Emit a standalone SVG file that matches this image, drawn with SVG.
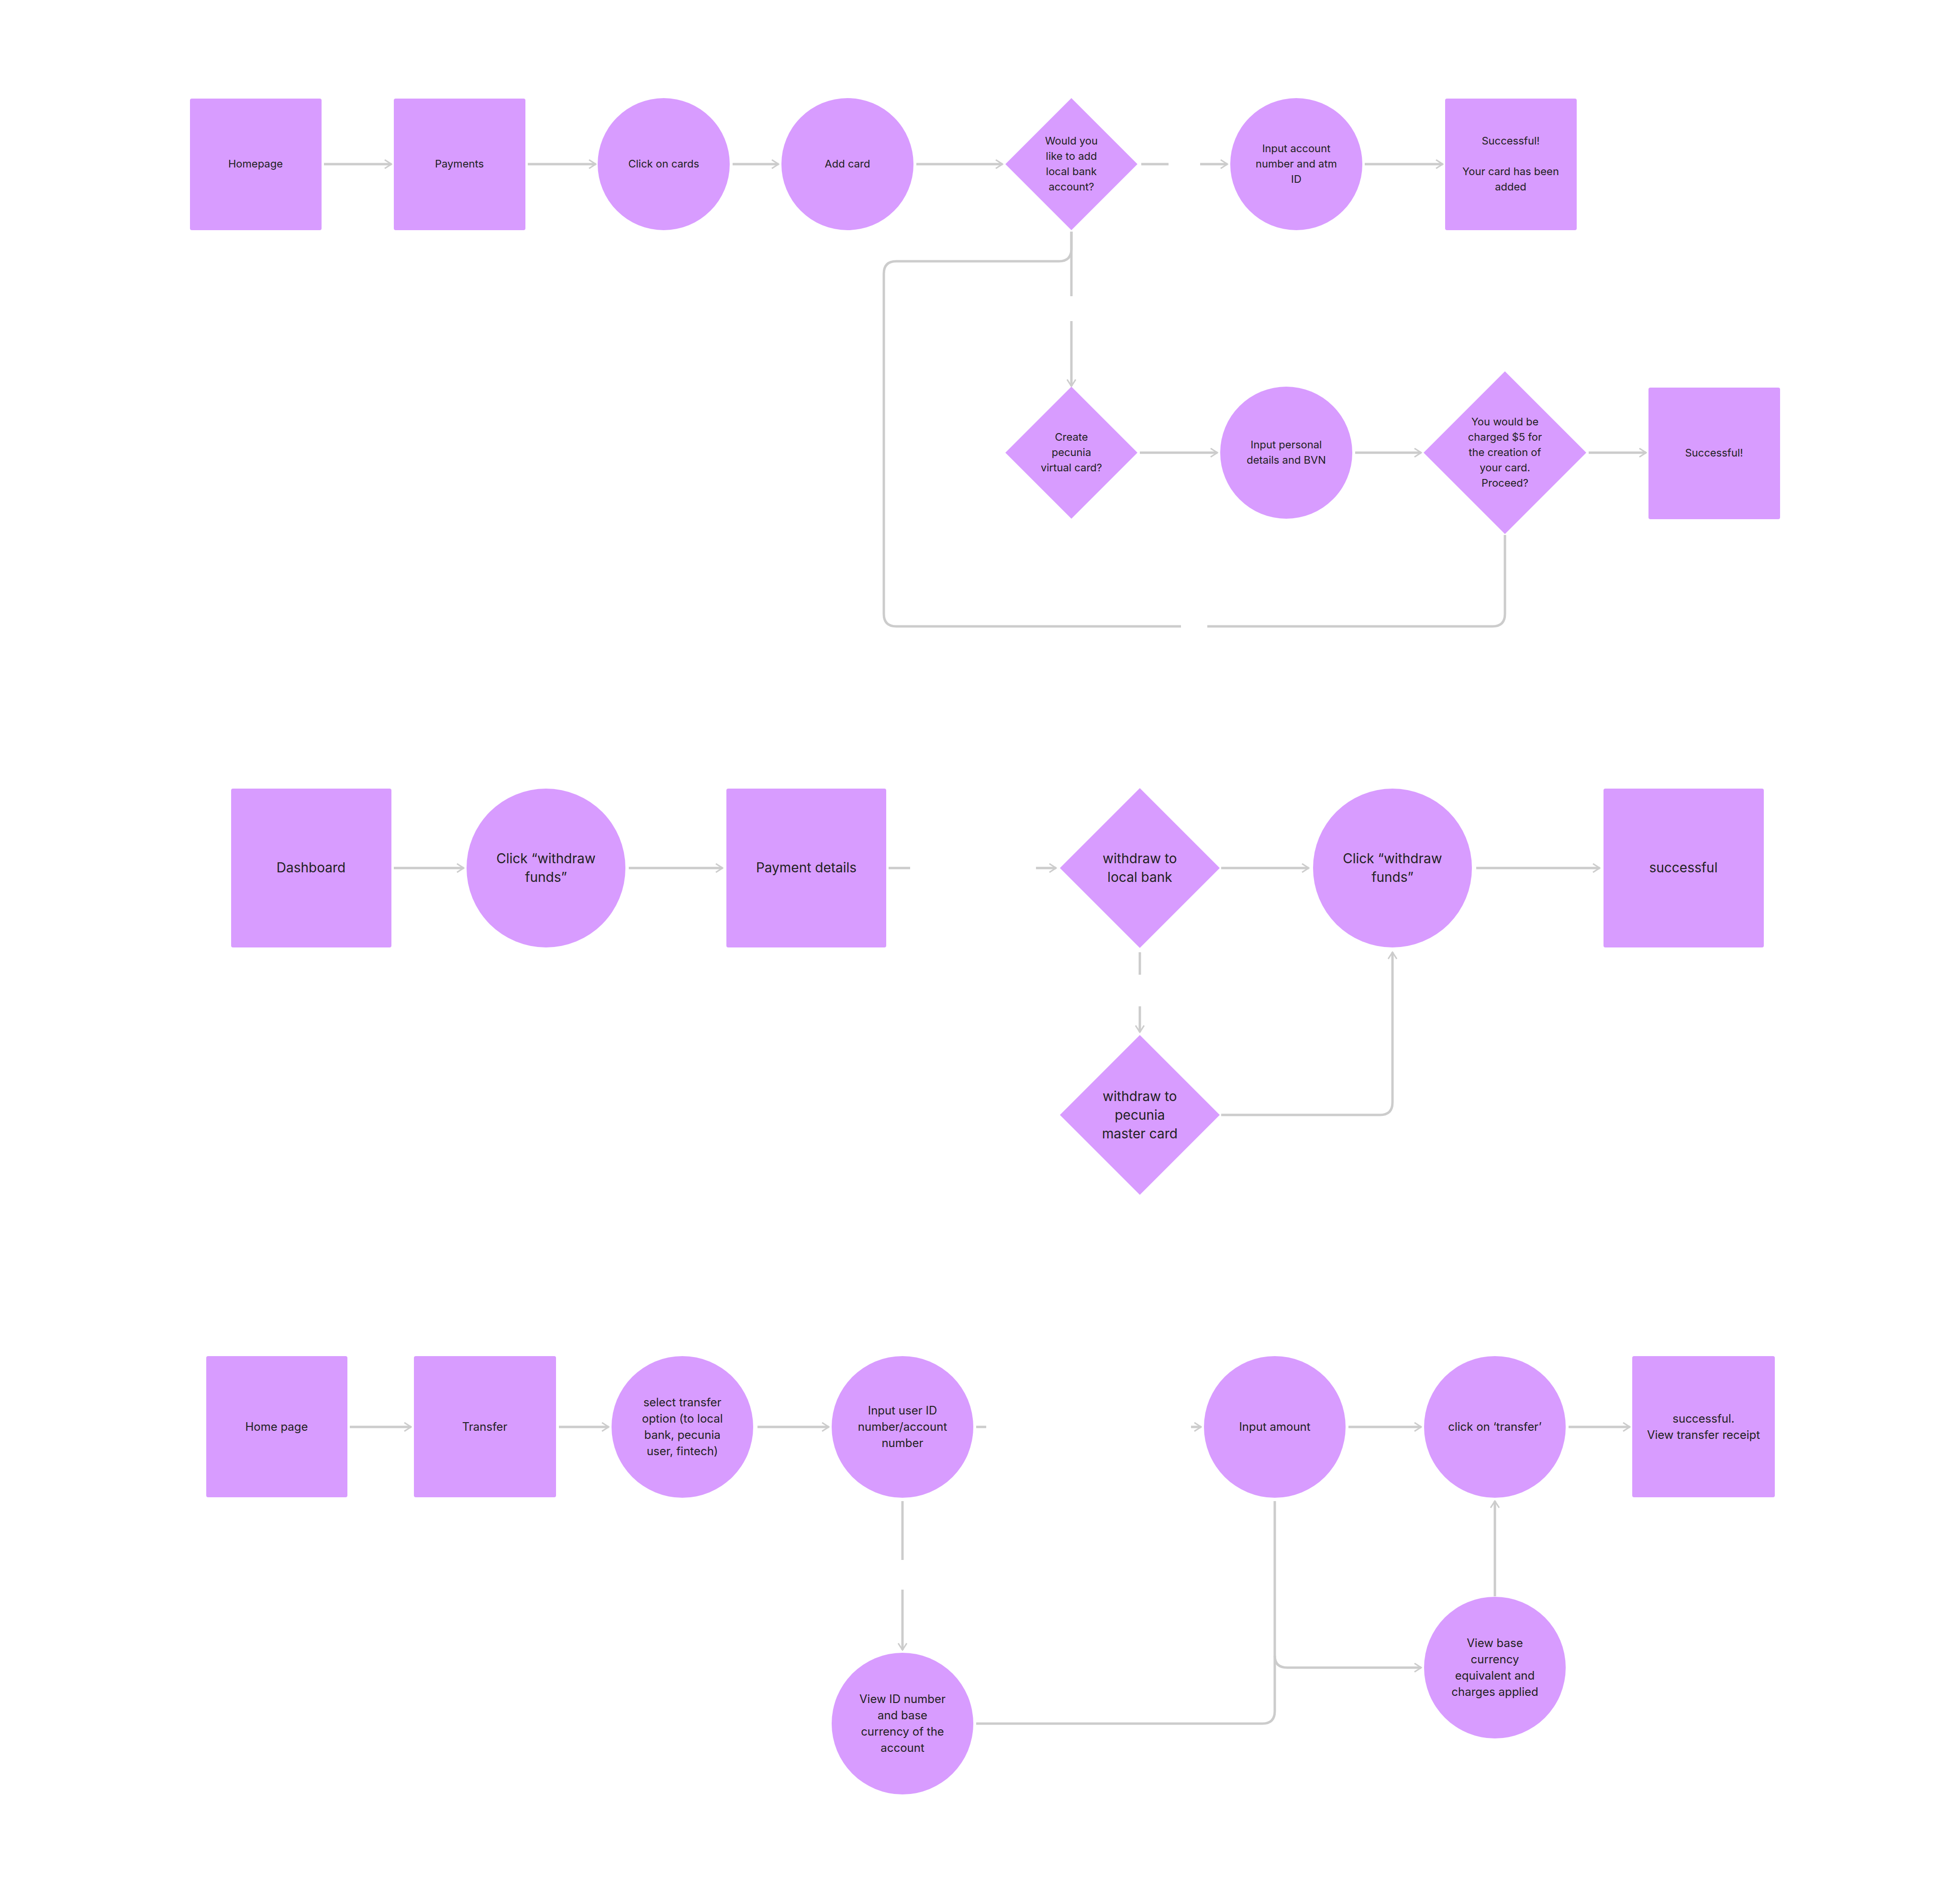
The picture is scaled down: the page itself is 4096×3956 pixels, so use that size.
<svg xmlns="http://www.w3.org/2000/svg" width="4096" height="3956" viewBox="0 0 4096 3956">
<style>
.n{fill:#d89cff}
.c{fill:none;stroke:#cccccc;stroke-width:5}
.a{marker-end:url(#ar)}
text{font-family:Inter,"Liberation Sans",sans-serif;fill:#222;text-anchor:middle;dominant-baseline:middle}
.t1{font-size:22px}.t2{font-size:28px}.t3{font-size:24px}
</style>
<defs>
<marker id="ar" viewBox="0 0 20 20" refX="18" refY="10" markerWidth="20" markerHeight="20" markerUnits="userSpaceOnUse" orient="auto">
<path d="M4 1 L18 10 L4 19" fill="none" stroke="#cccccc" stroke-width="3"/>
</marker>
</defs>
<rect width="4096" height="3956" fill="#fff"/>
<g id="connectors">
<path class="c a" d="M677 343H818"/>
<path class="c a" d="M1103 343H1245"/>
<path class="c a" d="M1531 343H1627"/>
<path class="c a" d="M1915 343H2095"/>
<path class="c" d="M2385 343H2442"/>
<path class="c a" d="M2508 343H2565"/>
<path class="c a" d="M2852 343H3015"/>
<path class="c" d="M2239 484V619"/>
<path class="c a" d="M2239 671V807"/>
<path class="c" d="M2239 484V520Q2239 546 2213 546H1873Q1847 546 1847 572V1283Q1847 1309 1873 1309H2468"/>
<path class="c" d="M2523 1309H3119Q3145 1309 3145 1283V1118"/>
<path class="c a" d="M2382 946H2544"/>
<path class="c a" d="M2832 946H2970"/>
<path class="c a" d="M3320 946H3440"/>
<path class="c a" d="M823 1814H969"/>
<path class="c a" d="M1314 1814H1510"/>
<path class="c" d="M1857 1814H1902"/>
<path class="c a" d="M2165 1814H2207"/>
<path class="c a" d="M2552 1814H2735"/>
<path class="c a" d="M3085 1814H3343"/>
<path class="c" d="M2382 1990V2037"/>
<path class="c a" d="M2382 2103V2157"/>
<path class="c a" d="M2552 2330H2884Q2910 2330 2910 2304V1990"/>
<path class="c a" d="M731 2982H859"/>
<path class="c a" d="M1168 2982H1272"/>
<path class="c a" d="M1583 2982H1732"/>
<path class="c" d="M2040 2982H2061"/>
<path class="c a" d="M2489 2982H2510"/>
<path class="c a" d="M2818 2982H2970"/>
<path class="c a" d="M3278 2982H3406"/>
<path class="c" d="M1886 3137V3260"/>
<path class="c a" d="M1886 3322V3448"/>
<path class="c" d="M2040 3602H2638Q2664 3602 2664 3576V3137"/>
<path class="c a" d="M2664 3460Q2664 3485 2690 3485H2970"/>
<path class="c a" d="M3124 3336V3137"/>
</g>
<g id="homepage"><rect class="n" x="397" y="206" width="275" height="275" rx="4"/><text class="t1" x="534" y="344">Homepage</text></g>
<g id="payments"><rect class="n" x="823" y="206" width="275" height="275" rx="4"/><text class="t1" x="960" y="344">Payments</text></g>
<g id="clickcards"><circle class="n" cx="1387" cy="343" r="138"/><text class="t1" x="1387" y="344">Click on cards</text></g>
<g id="addcard"><circle class="n" cx="1771" cy="343" r="138"/><text class="t1" x="1771" y="344">Add card</text></g>
<g id="addlocal"><path class="n" d="M2239 205L2377 343L2239 481L2101 343Z"/><text class="t1" x="2239" y="296">Would you</text><text class="t1" x="2239" y="328">like to add</text><text class="t1" x="2239" y="360">local bank</text><text class="t1" x="2239" y="392">account?</text></g>
<g id="inputaccount"><circle class="n" cx="2709" cy="343" r="138"/><text class="t1" x="2709" y="312">Input account</text><text class="t1" x="2709" y="344">number and atm</text><text class="t1" x="2709" y="376">ID</text></g>
<g id="success1"><rect class="n" x="3020" y="206" width="275" height="275" rx="4"/><text class="t1" x="3157" y="296">Successful!</text><text class="t1" x="3157" y="360">Your card has been</text><text class="t1" x="3157" y="392">added</text></g>
<g id="createvirtual"><path class="n" d="M2239 808L2377 946L2239 1084L2101 946Z"/><text class="t1" x="2239" y="915">Create</text><text class="t1" x="2239" y="947">pecunia</text><text class="t1" x="2239" y="979">virtual card?</text></g>
<g id="inputpersonal"><circle class="n" cx="2688" cy="946" r="138"/><text class="t1" x="2688" y="931">Input personal</text><text class="t1" x="2688" y="963">details and BVN</text></g>
<g id="charged"><path class="n" d="M3145 776L3315 946L3145 1116L2975 946Z"/><text class="t1" x="3145" y="883">You would be</text><text class="t1" x="3145" y="915">charged $5 for</text><text class="t1" x="3145" y="947">the creation of</text><text class="t1" x="3145" y="979">your card.</text><text class="t1" x="3145" y="1011">Proceed?</text></g>
<g id="success2"><rect class="n" x="3445" y="810" width="275" height="275" rx="4"/><text class="t1" x="3582" y="948">Successful!</text></g>
<g id="dashboard"><rect class="n" x="483" y="1648" width="335" height="332" rx="4"/><text class="t2" x="650" y="1815">Dashboard</text></g>
<g id="clickwithdraw1"><circle class="n" cx="1141" cy="1814" r="166"/><text class="t2" x="1141" y="1796">Click “withdraw</text><text class="t2" x="1141" y="1835">funds”</text></g>
<g id="paymentdetails"><rect class="n" x="1518" y="1648" width="334" height="332" rx="4"/><text class="t2" x="1685" y="1815">Payment details</text></g>
<g id="localbank"><path class="n" d="M2382 1647L2549 1814L2382 1981L2215 1814Z"/><text class="t2" x="2382" y="1796">withdraw to</text><text class="t2" x="2382" y="1835">local bank</text></g>
<g id="clickwithdraw2"><circle class="n" cx="2910" cy="1814" r="166"/><text class="t2" x="2910" y="1796">Click “withdraw</text><text class="t2" x="2910" y="1835">funds”</text></g>
<g id="successful3"><rect class="n" x="3351" y="1648" width="335" height="332" rx="4"/><text class="t2" x="3518" y="1815">successful</text></g>
<g id="mastercard"><path class="n" d="M2382 2163L2549 2330L2382 2497L2215 2330Z"/><text class="t2" x="2382" y="2293">withdraw to</text><text class="t2" x="2382" y="2332">pecunia</text><text class="t2" x="2382" y="2371">master card</text></g>
<g id="homepage2"><rect class="n" x="431" y="2834" width="295" height="295" rx="4"/><text class="t3" x="578" y="2983">Home page</text></g>
<g id="transfer"><rect class="n" x="865" y="2834" width="297" height="295" rx="4"/><text class="t3" x="1013" y="2983">Transfer</text></g>
<g id="selecttransfer"><circle class="n" cx="1426" cy="2982" r="148"/><text class="t3" x="1426" y="2932">select transfer</text><text class="t3" x="1426" y="2966">option (to local</text><text class="t3" x="1426" y="3000">bank, pecunia</text><text class="t3" x="1426" y="3034">user, fintech)</text></g>
<g id="inputuserid"><circle class="n" cx="1886" cy="2982" r="148"/><text class="t3" x="1886" y="2949">Input user ID</text><text class="t3" x="1886" y="2983">number/account</text><text class="t3" x="1886" y="3017">number</text></g>
<g id="inputamount"><circle class="n" cx="2664" cy="2982" r="148"/><text class="t3" x="2664" y="2983">Input amount</text></g>
<g id="clicktransfer"><circle class="n" cx="3124" cy="2982" r="148"/><text class="t3" x="3124" y="2983">click on ‘transfer’</text></g>
<g id="successful4"><rect class="n" x="3411" y="2834" width="298" height="295" rx="4"/><text class="t3" x="3560" y="2966">successful.</text><text class="t3" x="3560" y="3000">View transfer receipt</text></g>
<g id="viewid"><circle class="n" cx="1886" cy="3602" r="148"/><text class="t3" x="1886" y="3552">View ID number</text><text class="t3" x="1886" y="3586">and base</text><text class="t3" x="1886" y="3620">currency of the</text><text class="t3" x="1886" y="3654">account</text></g>
<g id="viewbase"><circle class="n" cx="3124" cy="3485" r="148"/><text class="t3" x="3124" y="3435">View base</text><text class="t3" x="3124" y="3469">currency</text><text class="t3" x="3124" y="3503">equivalent and</text><text class="t3" x="3124" y="3537">charges applied</text></g>
</svg>
